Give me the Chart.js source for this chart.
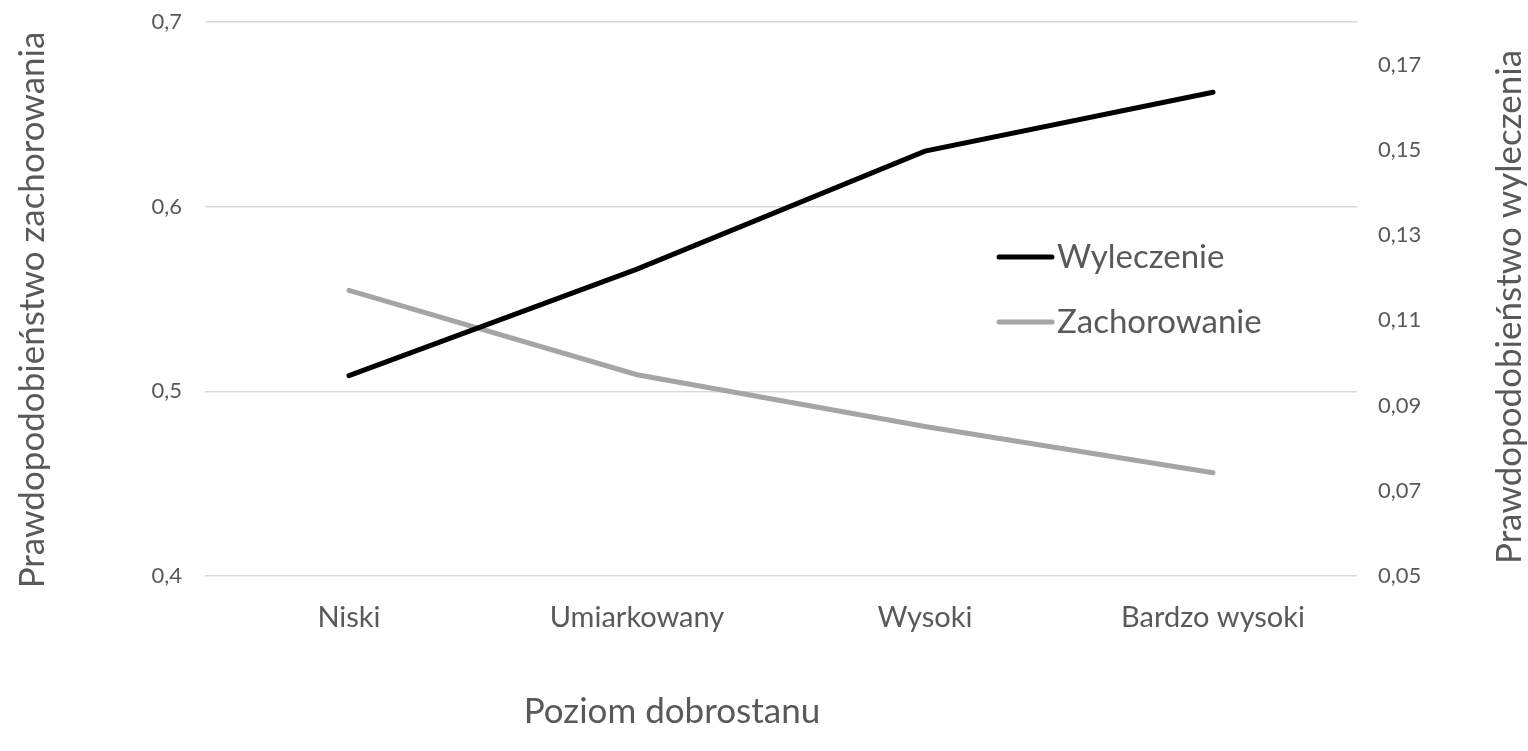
<!DOCTYPE html>
<html>
<head>
<meta charset="utf-8">
<script src="https://cdn.jsdelivr.net/npm/chart.js@4.4.1/dist/chart.umd.min.js"></script>
<style>
html, body { margin: 0; padding: 0; background: #fff; }
#wrap { width: 1528px; height: 751px; }
</style>
</head>
<body>
<div id="wrap"><canvas id="chart"></canvas></div>
<script>
// dane
const categories = ['Niski', 'Umiarkowany', 'Wysoki', 'Bardzo wysoki']
const wyleczenie = [0.097, 0.122, 0.1497, 0.1635]
const zachorowanie = [0.5547, 0.509, 0.481, 0.4559]
const leftTicks = [0.4, 0.5, 0.6, 0.7]
const rightTicks = [0.05, 0.07, 0.09, 0.11, 0.13, 0.15, 0.17]
const xTitle = 'Poziom dobrostanu'
const leftTitle = 'Prawdopodobieństwo zachorowania'
const rightTitle = 'Prawdopodobieństwo wyleczenia'

const FONT = 'Lato'
const TXT = '#595959'
const fmt = v => String(v).replace('.', ',')

// tytuly osi i legenda wewnatrz wykresu
const overlay = {
    id: 'overlay',
    afterDraw(chart) {
        const ctx = chart.ctx
        ctx.save()
        ctx.fillStyle = TXT
        ctx.textBaseline = 'middle'
        ctx.textAlign = 'center'
        ctx.font = '35px ' + FONT
        ctx.fillText(xTitle, 672, 712)

        ctx.save()
        ctx.translate(33, 310)
        ctx.rotate(-Math.PI / 2)
        ctx.fillText(leftTitle, 0, 0)
        ctx.restore()

        ctx.save()
        ctx.translate(1510, 307)
        ctx.rotate(-Math.PI / 2)
        ctx.fillText(rightTitle, 0, 0)
        ctx.restore()

        // legenda
        ctx.textAlign = 'left'
        ctx.font = '33px ' + FONT
        ctx.lineCap = 'round'
        const rows = [257, 322]
        chart.data.datasets.forEach((ds, i) => {
            const y = rows[i]
            ctx.strokeStyle = ds.borderColor
            ctx.lineWidth = 5
            ctx.beginPath()
            ctx.moveTo(999, y)
            ctx.lineTo(1052, y)
            ctx.stroke()
            ctx.fillText(ds.label, 1057, y)
        })
        ctx.restore()
    }
}

// stala szerokosc osi, bez dodatkowego marginesu od etykiet
const fixY = w => s => { s.width = w; s.paddingTop = 0; s.paddingBottom = 0 }

new Chart(document.querySelector('#chart'), {
    type: 'line',
    data: {
        labels: categories,
        datasets: [
            {
                label: 'Wyleczenie',
                data: wyleczenie,
                yAxisID: 'y1',
                borderColor: '#000000',
                borderWidth: 5,
                borderCapStyle: 'round',
                pointRadius: 0
            },
            {
                label: 'Zachorowanie',
                data: zachorowanie,
                yAxisID: 'y',
                borderColor: '#a5a5a5',
                borderWidth: 5,
                borderCapStyle: 'round',
                pointRadius: 0
            }
        ]
    },
    options: {
        responsive: true,
        maintainAspectRatio: false,
        animation: false,
        layout: { padding: { top: 22 } },
        plugins: {
            legend: { display: false },
            tooltip: { enabled: false }
        },
        scales: {
            x: {
                offset: true,
                grid: { display: false, drawTicks: false },
                border: { display: false },
                ticks: { color: TXT, font: { family: FONT, size: 29 }, padding: 24 },
                afterFit(s) { s.height = 175 }
            },
            y: {
                position: 'left',
                min: 0.4,
                max: 0.7,
                afterBuildTicks(s) { s.ticks = leftTicks.map(v => ({ value: v })) },
                grid: { color: '#d9d9d9', lineWidth: 1.5, drawTicks: false },
                border: { display: false },
                ticks: { color: TXT, font: { family: FONT, size: 22 }, padding: 23, callback: v => fmt(v) },
                afterFit: fixY(205)
            },
            y1: {
                position: 'right',
                min: 0.05,
                max: 0.18,
                afterBuildTicks(s) { s.ticks = rightTicks.map(v => ({ value: v })) },
                grid: { display: false, drawTicks: false },
                border: { display: false },
                ticks: { color: TXT, font: { family: FONT, size: 22 }, padding: 21, callback: v => fmt(v) },
                afterFit: fixY(171)
            }
        }
    },
    plugins: [overlay]
})
</script>
</body>
</html>
